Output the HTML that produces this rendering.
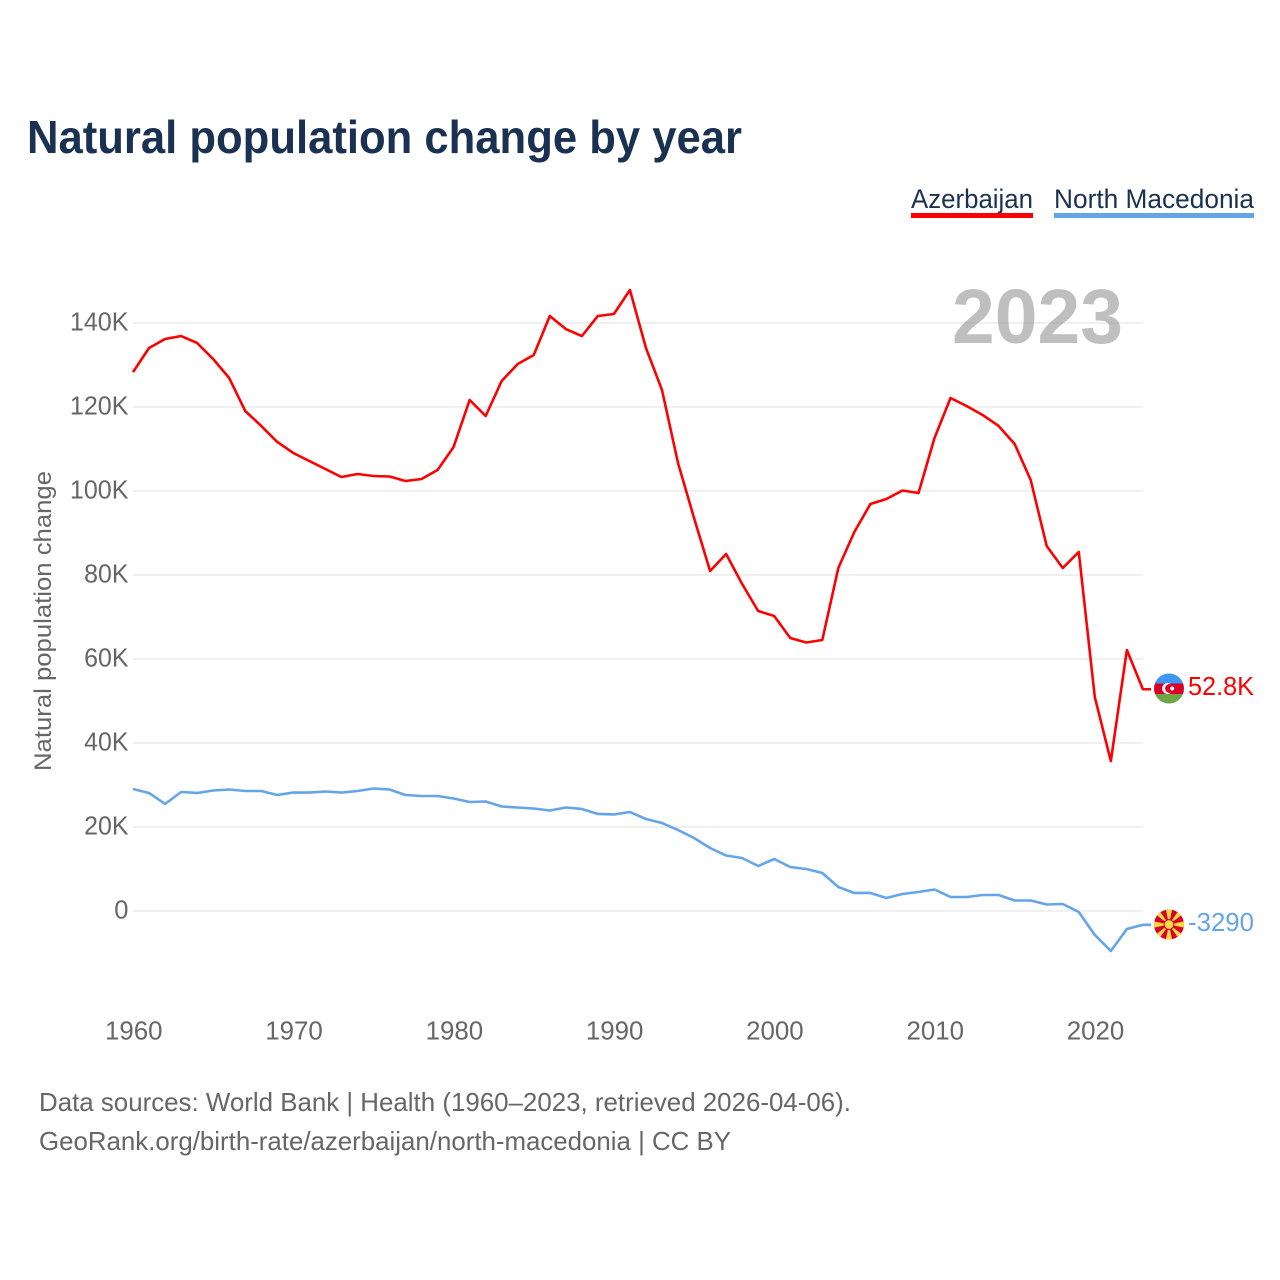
<!DOCTYPE html>
<html lang="en">
<head>
<meta charset="utf-8">
<title>Natural population change by year</title>
<style>
html,body{margin:0;padding:0;background:#fff;}
#chart{display:block;width:1280px;height:1280px;font-family:"Liberation Sans",sans-serif;}
</style>
</head>
<body>
<svg id="chart" xmlns="http://www.w3.org/2000/svg" width="1280" height="1280" viewBox="0 0 1280 1280">
  <rect x="0" y="0" width="1280" height="1280" fill="#ffffff"/>
  <text x="27" y="153" font-size="46" font-weight="700" fill="#1a3152" textLength="715" lengthAdjust="spacingAndGlyphs">Natural population change by year</text>

  <g>
    <text x="911" y="208" font-size="27" fill="#1a3152" textLength="122" lengthAdjust="spacingAndGlyphs">Azerbaijan</text>
    <rect x="911" y="213" width="122" height="5" fill="#ff0000"/>
  </g>
  <g>
    <text x="1054" y="208" font-size="27" fill="#1a3152" textLength="200" lengthAdjust="spacingAndGlyphs">North Macedonia</text>
    <rect x="1054" y="213" width="200" height="5" fill="#64a5ea"/>
  </g>

  <g id="grid"></g>
  <text x="952" y="343" font-size="77" font-weight="700" fill="#808080" fill-opacity="0.5" textLength="171" lengthAdjust="spacingAndGlyphs">2023</text>
  <g id="y-ticks"></g>
  <g id="x-ticks"></g>
  <text transform="translate(51,771) rotate(-90)" font-size="24.5" fill="#666666" textLength="300" lengthAdjust="spacingAndGlyphs">Natural population change</text>

  <polyline id="line-az" fill="none" stroke="#ff0000" stroke-width="2.6" stroke-linejoin="round"/>
  <polyline id="line-mk" fill="none" stroke="#64a5ea" stroke-width="2.6" stroke-linejoin="round"/>

  <defs>
    <clipPath id="flag-az-clip"><circle cx="1169" cy="688.5" r="15"/></clipPath>
    <clipPath id="flag-mk-clip"><circle cx="1169" cy="924.5" r="15"/></clipPath>
  </defs>
  <g clip-path="url(#flag-az-clip)">
    <rect x="1154" y="673" width="30" height="11" fill="#3f95f5"/>
    <rect x="1154" y="683.5" width="30" height="10.5" fill="#d80027"/>
    <rect x="1154" y="694" width="30" height="11" fill="#6da544"/>
    <circle cx="1167.5" cy="688.5" r="5.4" fill="#ffffff"/>
    <circle cx="1169.6" cy="688.5" r="4.5" fill="#d80027"/>
    <circle cx="1172.2" cy="688.5" r="2" fill="#ffffff"/>
  </g>
  <g clip-path="url(#flag-mk-clip)">
    <rect x="1154" y="909" width="30" height="31" fill="#d80027"/>
    <g fill="#ffda44">
      <polygon points="1169,924.5 1165.8,909 1172.2,909"/>
      <polygon points="1169,924.5 1165.8,940 1172.2,940"/>
      <polygon points="1169,924.5 1153.5,921.3 1153.5,927.7"/>
      <polygon points="1169,924.5 1184.5,921.3 1184.5,927.7"/>
      <polygon points="1169,924.5 1155,914 1159,910"/>
      <polygon points="1169,924.5 1183,914 1179,910"/>
      <polygon points="1169,924.5 1155,935 1159,939"/>
      <polygon points="1169,924.5 1183,935 1179,939"/>
    </g>
    <circle cx="1169" cy="924.5" r="5.4" fill="#d80027"/>
    <circle cx="1169" cy="924.5" r="4.4" fill="#ffda44"/>
  </g>
  <text x="1188" y="695" font-size="26" fill="#ff0000" textLength="66" lengthAdjust="spacingAndGlyphs">52.8K</text>
  <text x="1188" y="931" font-size="26" fill="#64a5ea" textLength="66" lengthAdjust="spacingAndGlyphs">-3290</text>

  <g>
    <text x="39" y="1111" font-size="26" fill="#666666" textLength="812" lengthAdjust="spacingAndGlyphs">Data sources: World Bank | Health (1960–2023, retrieved 2026-04-06).</text>
    <text x="39" y="1150" font-size="26" fill="#666666" textLength="692" lengthAdjust="spacingAndGlyphs">GeoRank.org/birth-rate/azerbaijan/north-macedonia | CC BY</text>
  </g>
</svg>
<script>
const startYear = 1960;
const azerbaijan = [128300,134050,136190,136900,135240,131430,126900,119050,115480,111670,109050,107140,105240,103330,104050,103570,103450,102380,102860,105000,110480,121670,117860,126190,130240,132380,141670,138570,136900,141670,142140,147860,134050,124050,106670,93570,80950,85000,77860,71430,70240,65000,63930,64520,81670,90240,96900,98100,100120,99520,112620,122140,120240,118100,115480,111190,102620,86900,81670,85480,50950,35710,62140,52800];
const northMacedonia = [29050,28100,25480,28330,28100,28690,28930,28570,28570,27620,28210,28210,28450,28210,28570,29170,28930,27620,27380,27380,26790,25950,26070,24880,24640,24400,23930,24640,24290,23100,22980,23570,21900,20950,19290,17380,15000,13210,12620,10710,12380,10480,10000,9050,5710,4290,4290,3100,4050,4520,5120,3330,3330,3810,3810,2500,2500,1550,1670,-240,-5710,-9520,-4290,-3290];
const yTickValues = [0,20000,40000,60000,80000,100000,120000,140000];
const yTickLabels = ["0","20K","40K","60K","80K","100K","120K","140K"];
const xTickYears = [1960,1970,1980,1990,2000,2010,2020];

const SVGNS = "http://www.w3.org/2000/svg";
function xScale(year){ return 133 + (year - 1960) * 16.03; }
function yScale(value){ return 911 - value * 84 / 20000; }

const gridGroup = document.getElementById("grid");
const yTickGroup = document.getElementById("y-ticks");
const xTickGroup = document.getElementById("x-ticks");

yTickValues.forEach(function(v, i){
  const line = document.createElementNS(SVGNS, "line");
  
  
  line.setAttribute("x1", 133);
  line.setAttribute("x2", 1143.5);
  line.setAttribute("y1", yScale(v));
  line.setAttribute("y2", yScale(v));
  line.setAttribute("stroke", "#ebebeb");
  line.setAttribute("stroke-width", "1.5");
  gridGroup.appendChild(line);

  const label = document.createElementNS(SVGNS, "text");
  
  
  const s = yTickLabels[i];
  const w = (s.replace("K","").length * 14.2) + (s.indexOf("K") >= 0 ? 16 : 0);
  label.setAttribute("x", 128.5 - w);
  label.setAttribute("y", yScale(v) + 7.5);
  label.setAttribute("font-size", "25.5");
  label.setAttribute("fill", "#666666");
  label.setAttribute("textLength", w);
  label.setAttribute("lengthAdjust", "spacingAndGlyphs");
  label.textContent = s;
  yTickGroup.appendChild(label);
});

xTickYears.forEach(function(year){
  const label = document.createElementNS(SVGNS, "text");
  
  
  label.setAttribute("x", xScale(year) - 28);
  label.setAttribute("y", 1039.5);
  label.setAttribute("font-size", "25.5");
  label.setAttribute("fill", "#666666");
  label.setAttribute("textLength", 57.5);
  label.setAttribute("lengthAdjust", "spacingAndGlyphs");
  label.textContent = String(year);
  xTickGroup.appendChild(label);
});

function seriesPoints(values, extendTo){
  const pts = values.map(function(v, i){ return xScale(startYear + i).toFixed(2) + "," + yScale(v).toFixed(2); });
  pts.push(extendTo + "," + yScale(values[values.length - 1]).toFixed(2));
  return pts.join(" ");
}
document.getElementById("line-az").setAttribute("points", seriesPoints(azerbaijan, 1151));
document.getElementById("line-mk").setAttribute("points", seriesPoints(northMacedonia, 1151));
</script>
</body>
</html>
